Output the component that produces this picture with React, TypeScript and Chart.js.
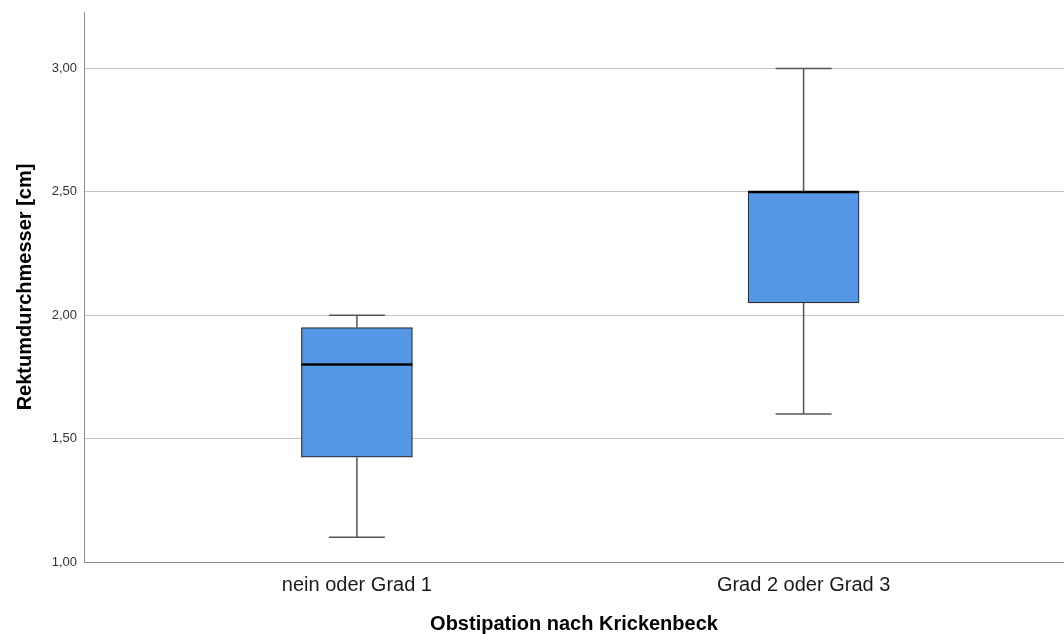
import React, { useEffect, useRef } from "react";
import { Chart, registerables } from "chart.js";

Chart.register(...registerables);

const categories = ["nein oder Grad 1", "Grad 2 oder Grad 3"];
const mins = [1.1, 1.6];
const q1s = [1.425, 2.05];
const medians = [1.8, 2.5];
const q3s = [1.95, 2.5];
const maxs = [2.0, 3.0];
const yTicks = [1.0, 1.5, 2.0, 2.5, 3.0];

const FONT = "'Liberation Sans', Arial, sans-serif";

const whiskerPlugin = {
  id: "whiskers",
  afterDatasetsDraw(chart: any) {
    const ctx = chart.ctx;
    const xs = chart.scales.x;
    const ys = chart.scales.y;
    ctx.save();
    categories.forEach((_, i) => {
      const cx = xs.getPixelForValue(i);
      const half = 111 / 2;
      const cap = 28;
      ctx.strokeStyle = "#555555";
      ctx.lineWidth = 1.5;
      ctx.beginPath();
      ctx.moveTo(cx, ys.getPixelForValue(q3s[i]));
      ctx.lineTo(cx, ys.getPixelForValue(maxs[i]));
      ctx.moveTo(cx - cap, ys.getPixelForValue(maxs[i]));
      ctx.lineTo(cx + cap, ys.getPixelForValue(maxs[i]));
      ctx.moveTo(cx, ys.getPixelForValue(q1s[i]));
      ctx.lineTo(cx, ys.getPixelForValue(mins[i]));
      ctx.moveTo(cx - cap, ys.getPixelForValue(mins[i]));
      ctx.lineTo(cx + cap, ys.getPixelForValue(mins[i]));
      ctx.stroke();
      ctx.strokeStyle = "#000000";
      ctx.lineWidth = 2.5;
      ctx.beginPath();
      const my = ys.getPixelForValue(medians[i]);
      ctx.moveTo(cx - half, my);
      ctx.lineTo(cx + half, my);
      ctx.stroke();
    });
    ctx.restore();
  },
};

export default function App() {
  const ref = useRef<HTMLCanvasElement>(null);
  useEffect(() => {
    const chart = new Chart(ref.current!, {
      type: "bar",
      data: {
        datasets: [
          {
            data: categories.map((_, i) => ({ x: i, y: [q1s[i], q3s[i]] })) as any,
            backgroundColor: "#5596e6",
            borderColor: "#2a2a2a",
            borderWidth: 1.2,
            borderSkipped: false,
            barThickness: 111,
          },
        ],
      },
      options: {
        responsive: false,
        animation: false,
        layout: { padding: { top: 12, right: 0, left: 0, bottom: 0 } },
        plugins: { legend: { display: false }, tooltip: { enabled: false } },
        scales: {
          x: {
            type: "linear",
            offset: false,
            min: -0.611,
            max: 1.583,
            afterBuildTicks: (s: any) => {
              s.ticks = categories.map((_, i) => ({ value: i }));
            },
            afterFit: (s: any) => {
              s.height = 72;
            },
            grid: { display: false, drawTicks: false, offset: false },
            border: { display: true, color: "#8c8c8c", width: 1 },
            ticks: {
              autoSkip: false,
              maxRotation: 0,
              padding: 11,
              color: "#1a1a1a",
              font: { family: FONT, size: 20 },
              callback: (v: any) => categories[Number(v)] ?? "",
            },
            title: {
              display: true,
              text: "Obstipation nach Krickenbeck",
              color: "#000000",
              padding: { top: 0, bottom: 0 },
              font: { family: FONT, size: 20, weight: "bold", lineHeight: 1 },
            },
          },
          y: {
            type: "linear",
            min: 1.0,
            max: 3.229,
            afterBuildTicks: (s: any) => {
              s.ticks = yTicks.map((v) => ({ value: v }));
            },
            afterFit: (s: any) => {
              s.width = 84;
              s.paddingTop = 0;
              s.paddingBottom = 0;
            },
            grid: { color: "#c4c4c4", lineWidth: 1, drawTicks: false },
            border: { display: true, color: "#8c8c8c", width: 1 },
            ticks: {
              padding: 7,
              color: "#333333",
              font: { family: FONT, size: 13 },
              callback: (v: any) => Number(v).toFixed(2).replace(".", ","),
            },
            title: {
              display: true,
              text: "Rektumdurchmesser [cm]",
              color: "#000000",
              padding: { top: 13, bottom: 0 },
              font: { family: FONT, size: 20, weight: "bold" },
            },
          },
        },
      },
      plugins: [whiskerPlugin],
    });
    return () => chart.destroy();
  }, []);
  return (
    <div style={{ position: "absolute", left: 0, top: 0, width: 1064, height: 634, background: "#fff" }}>
      <canvas ref={ref} width={1064} height={634} />
    </div>
  );
}
